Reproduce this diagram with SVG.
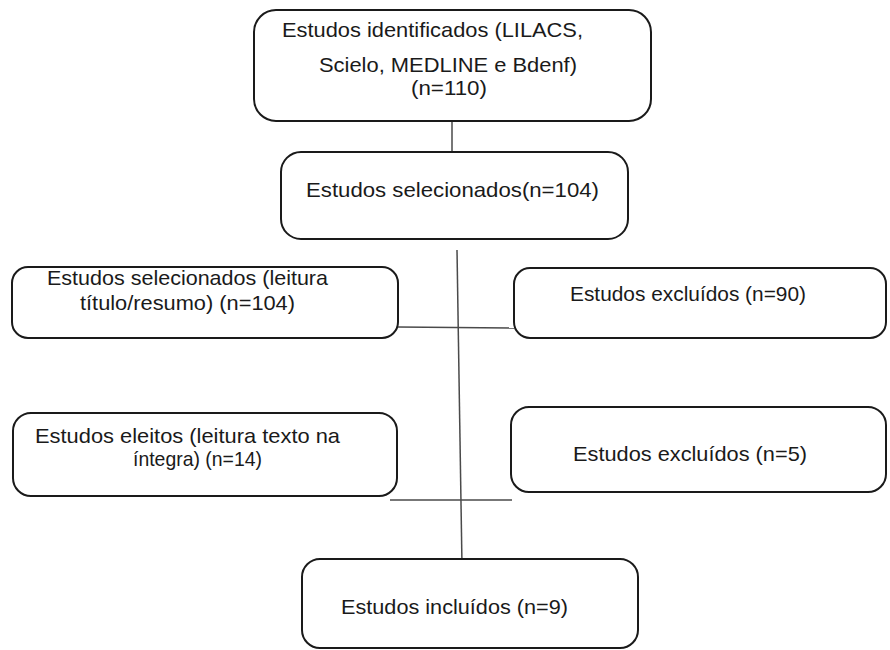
<svg xmlns="http://www.w3.org/2000/svg" width="890" height="650" viewBox="0 0 890 650">
<style>
.box{fill:#ffffff;stroke:#1a1a1a;stroke-width:2}
.t{font-family:"Liberation Sans",Arial,sans-serif;font-size:21px;fill:#1a1a1a}
.c{stroke:#4a4a4a;stroke-width:1.5;fill:none}
</style>
<rect width="890" height="650" fill="#ffffff"/>
<g id="connectors">
<line class="c" x1="452" y1="121" x2="452" y2="152"/>
<line class="c" x1="457" y1="250" x2="462" y2="566"/>
<line class="c" x1="398" y1="327" x2="514" y2="328"/>
<line class="c" x1="390" y1="500" x2="512" y2="500"/>
</g>
<g id="n1">
<rect class="box" x="254" y="10" width="397" height="111" rx="22"/>
<text class="t" x="282" y="37" textLength="301" lengthAdjust="spacingAndGlyphs">Estudos identificados (LILACS,</text>
<text class="t" x="319" y="72" textLength="258" lengthAdjust="spacingAndGlyphs">Scielo, MEDLINE e Bdenf)</text>
<text class="t" x="411" y="95" textLength="76" lengthAdjust="spacingAndGlyphs">(n=110)</text>
</g>
<g id="n2">
<rect class="box" x="281" y="152" width="347" height="87" rx="20"/>
<text class="t" x="306" y="197" textLength="293" lengthAdjust="spacingAndGlyphs">Estudos selecionados(n=104)</text>
</g>
<g id="n3">
<rect class="box" x="12" y="267" width="386" height="71" rx="16"/>
<text class="t" x="47" y="285" textLength="281" lengthAdjust="spacingAndGlyphs">Estudos selecionados (leitura</text>
<text class="t" x="80" y="310" textLength="215" lengthAdjust="spacingAndGlyphs">título/resumo) (n=104)</text>
</g>
<g id="n4">
<rect class="box" x="514" y="268" width="372" height="70" rx="16"/>
<text class="t" x="570" y="301" textLength="236" lengthAdjust="spacingAndGlyphs">Estudos excluídos (n=90)</text>
</g>
<g id="n5">
<rect class="box" x="13" y="413" width="384" height="83" rx="18"/>
<text class="t" x="35" y="443" textLength="305" lengthAdjust="spacingAndGlyphs">Estudos eleitos (leitura texto na</text>
<text class="t" x="133" y="466" textLength="129" lengthAdjust="spacingAndGlyphs">íntegra) (n=14)</text>
</g>
<g id="n6">
<rect class="box" x="511" y="407" width="375" height="85" rx="18"/>
<text class="t" x="573" y="461" textLength="234" lengthAdjust="spacingAndGlyphs">Estudos excluídos (n=5)</text>
</g>
<g id="n7">
<rect class="box" x="302" y="559" width="336" height="89" rx="18"/>
<text class="t" x="341" y="614" textLength="227" lengthAdjust="spacingAndGlyphs">Estudos incluídos (n=9)</text>
</g>
</svg>
